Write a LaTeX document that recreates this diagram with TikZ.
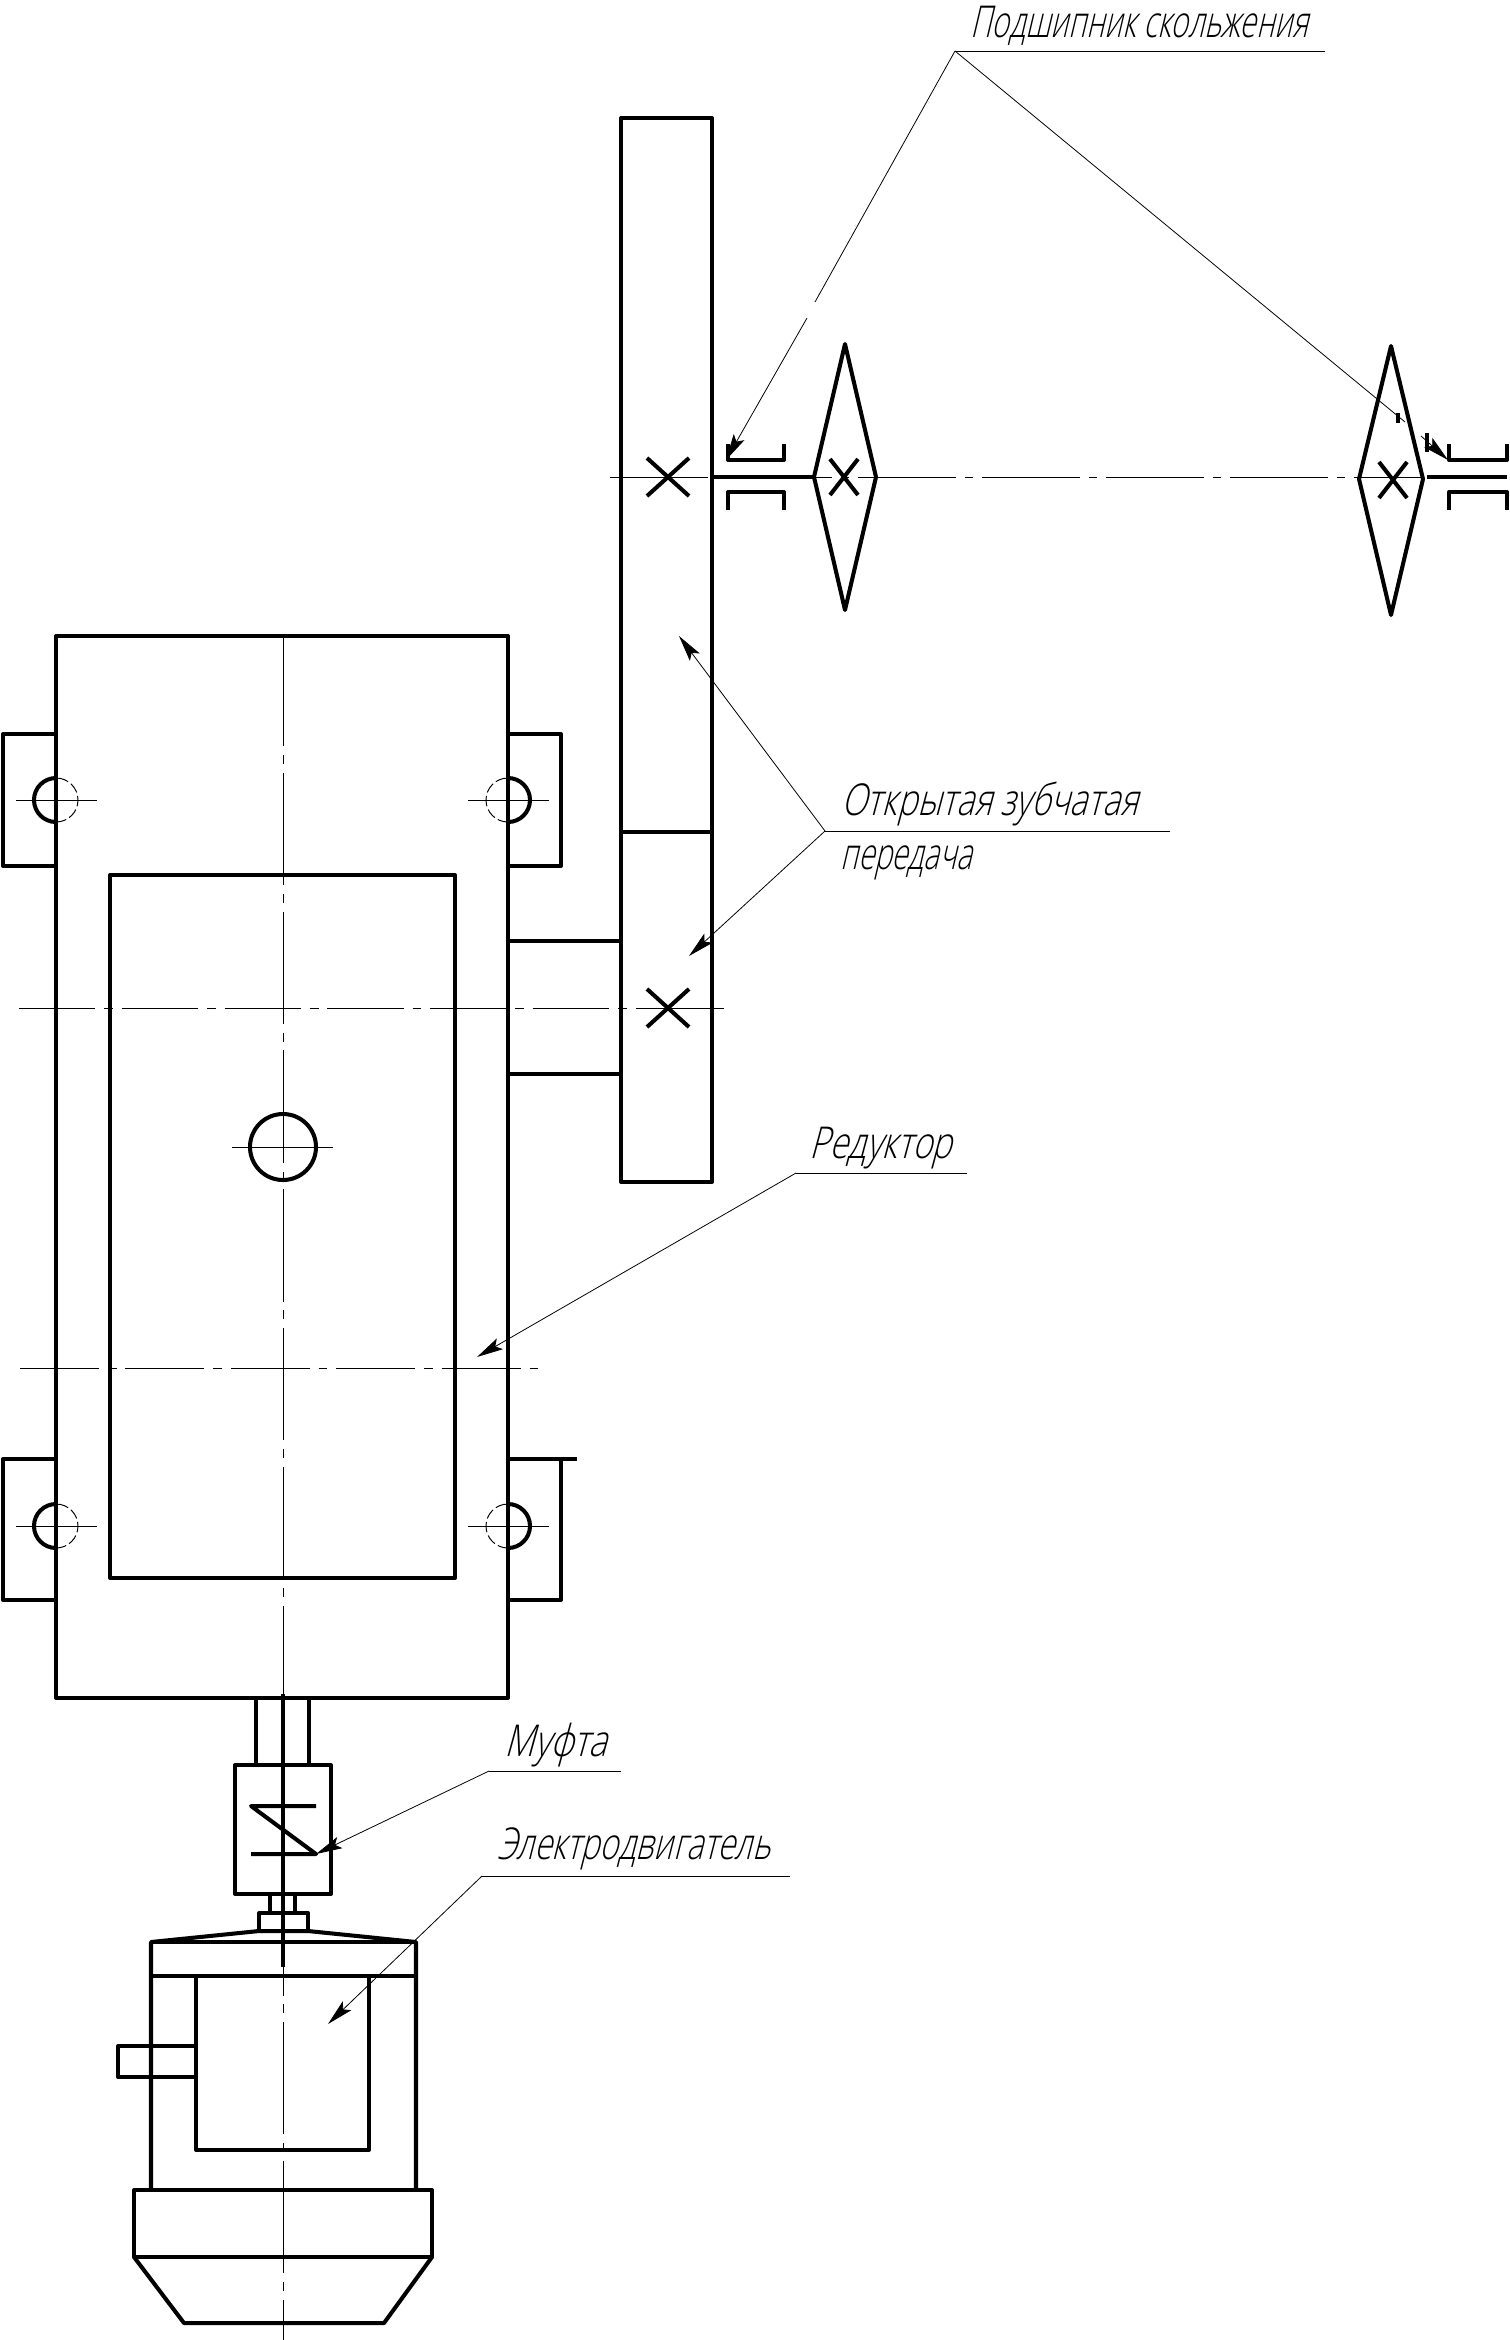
\documentclass[tikz,border=0pt]{standalone}
\usepackage{fontspec}
\usetikzlibrary{arrows.meta}
\newfontfamily\gostfont[UprightFont=* Light,FakeSlant=0.25,FakeStretch=0.72]{Open Sans}

\begin{document}
\begin{tikzpicture}[
		x=0.02cm, y=-0.02cm,
		contour/.style={line width=2.3pt, line join=round},
		thinline/.style={line width=0.55pt},
		axisline/.style={thinline, dash pattern=on #1 off 5pt on 5pt off 5pt},
		leader/.style={line width=0.45pt},
		tipped/.style={leader, -{Stealth[length=15pt, width=7pt, inset=3pt]}},
		caption/.style={anchor=base west, inner sep=0pt, font=\gostfont\fontsize{25}{30}\selectfont}
		]
		\useasboundingbox (0,0) rectangle (1509,2340);
		
		% Axis lines
		\draw[axisline=64pt] (283,634) -- (283,2340);
		\draw[axisline=43.5pt] (19,1008) -- (690,1008);
		\draw[thinline] (688,1008) -- (724,1008);
		\draw[axisline=45pt] (20,1368) -- (538,1368);
		\draw[axisline=55.6pt] (610,477) -- (1423,477);
		
		% Reducer housing and cover
		\draw[contour] (56,636) rectangle (508,1698);
		\draw[contour] (110,875) rectangle (455,1578);
		\draw[contour] (283,1147) circle [radius=33];
		\draw[thinline] (232,1147) -- (333,1147);
		
		% Mounting lugs
		\foreach \ya/\yb in {734/866, 1459/1600}
		{
			\draw[contour] (56,\ya) -- (3,\ya) -- (3,\yb) -- (56,\yb);
			\draw[contour] (508,\ya) -- (561,\ya) -- (561,\yb) -- (508,\yb);
		}
		\draw[contour] (561,1459) -- (577,1459);
		
		% Bolt holes
		\foreach \cx/\cy/\outer/\inner in {56/800/270/-90, 508/800/-90/270, 56/1526/270/-90, 508/1526/-90/270}
		{
			\draw[contour] (\cx,{\cy+22}) arc (90:\outer:22);
			\draw[thinline, dash pattern=on 6pt off 2pt] (\cx,{\cy+22}) arc (90:\inner:22);
			\draw[thinline] ({\cx-40},\cy) -- ({\cx+41},\cy);
		}
		
		% Open gear pair
		\draw[contour] (621,118) rectangle (712,1182);
		\draw[contour] (621,832) -- (712,832);
		\draw[contour] (508,941) -- (621,941);
		\draw[contour] (508,1074) -- (621,1074);
		
		% Sprockets and shaft
		\draw[contour] (845,344) -- (876,477) -- (845,610) -- (814,477) -- cycle;
		\draw[contour] (1391,346) -- (1423,479) -- (1391,615) -- (1359,479) -- cycle;
		\draw[contour] (712,477) -- (814,477);
		\draw[contour] (1427,477) -- (1507,477);
		\foreach \cx/\cy/\dx/\dy in {668/477/21/19, 668/1008/21/19, 844/477/14/18, 1393/480/14/18}
		\draw[contour] ({\cx-\dx},{\cy-\dy}) -- ({\cx+\dx},{\cy+\dy}) ({\cx+\dx},{\cy-\dy}) -- ({\cx-\dx},{\cy+\dy});
		
		% Plain bearings
		\foreach \xa/\xb in {728/784, 1449/1507}
		{
			\draw[contour] (\xa,444) -- (\xa,460) -- (\xb,460) -- (\xb,444);
			\draw[contour] (\xa,510) -- (\xa,492) -- (\xb,492) -- (\xb,510);
		}
		\draw[contour] (1398,413) -- (1398,423);
		\draw[contour] (1427,433) -- (1427,452);
		
		% Coupling
		\draw[contour] (283,1694) -- (283,1967);
		\draw[contour] (256,1698) -- (256,1765);
		\draw[contour] (309,1698) -- (309,1765);
		\draw[contour] (235,1765) rectangle (331,1894);
		\draw[contour] (316,1806) -- (251,1806) -- (316,1854) -- (251,1854);
		\draw[contour] (270,1894) -- (270,1913);
		\draw[contour] (295,1894) -- (295,1913);
		\draw[contour] (259,1931) -- (259,1913) -- (308,1913) -- (308,1931);
		
		% Electric motor
		\draw[contour] (151,2190) -- (151,1942) -- (259,1931) -- (308,1931) -- (416,1942) -- (416,2190);
		\draw[contour] (151,1942) -- (416,1942);
		\draw[contour] (151,1976) -- (416,1976);
		\draw[contour] (196,1976) rectangle (369,2150);
		\draw[contour] (196,2046) -- (118,2046) -- (118,2077) -- (196,2077);
		\draw[contour] (134,2190) rectangle (432,2257);
		\draw[contour] (134,2257) -- (184,2323) -- (384,2323) -- (432,2257);
		
		% Labels
		\foreach \name/\px/\py/\sx/\txt in {bearing/970/37/.94/Подшипник скольжения, gearA/841/815/1.06/Открытая зубчатая, gearB/840/869/.93/передача, reducer/809/1158/1.07/Редуктор, clutch/504/1756/1.10/Муфта, motor/497/1859/1.01/Электродвигатель}
		\node[caption] (\name) at (\px,\py) {\scalebox{\sx}[1]{\txt}};
		
		% Leader shelves and their arrow ends
		\coordinate (bearingKnee) at (955,51);
		\coordinate (bearingEnd) at (1325,51);
		\coordinate (bearingBreakA) at (815,302);
		\coordinate (bearingResumeA) at (807,318);
		\coordinate (bearingTipA) at (726,460);
		\coordinate (bearingBreakB) at (1405,422);
		\coordinate (bearingResumeB) at (1421,436);
		\coordinate (bearingTipB) at (1448,460);
		\coordinate (gearKnee) at (825,831);
		\coordinate (gearEnd) at (1170,831);
		\coordinate (gearTipA) at (679,636);
		\coordinate (gearTipB) at (689,956);
		\coordinate (reducerKnee) at (796,1173);
		\coordinate (reducerEnd) at (967,1173);
		\coordinate (reducerTip) at (477,1357);
		\coordinate (clutchKnee) at (489,1771);
		\coordinate (clutchEnd) at (621,1771);
		\coordinate (clutchTip) at (316,1854);
		\coordinate (motorKnee) at (482,1876);
		\coordinate (motorEnd) at (790,1876);
		\coordinate (motorTip) at (328,2024);
		
		% Leaders
		\foreach \knee/\shelf in {bearingKnee/bearingEnd, gearKnee/gearEnd, reducerKnee/reducerEnd, clutchKnee/clutchEnd, motorKnee/motorEnd, bearingKnee/bearingBreakA, bearingKnee/bearingBreakB}
		\draw[leader] (\knee) -- (\shelf);
		\foreach \knee/\tip in {gearKnee/gearTipA, gearKnee/gearTipB, reducerKnee/reducerTip, clutchKnee/clutchTip, motorKnee/motorTip, bearingResumeA/bearingTipA, bearingResumeB/bearingTipB}
		\draw[tipped] (\knee) -- (\tip);
		
	\end{tikzpicture}
\end{document}
